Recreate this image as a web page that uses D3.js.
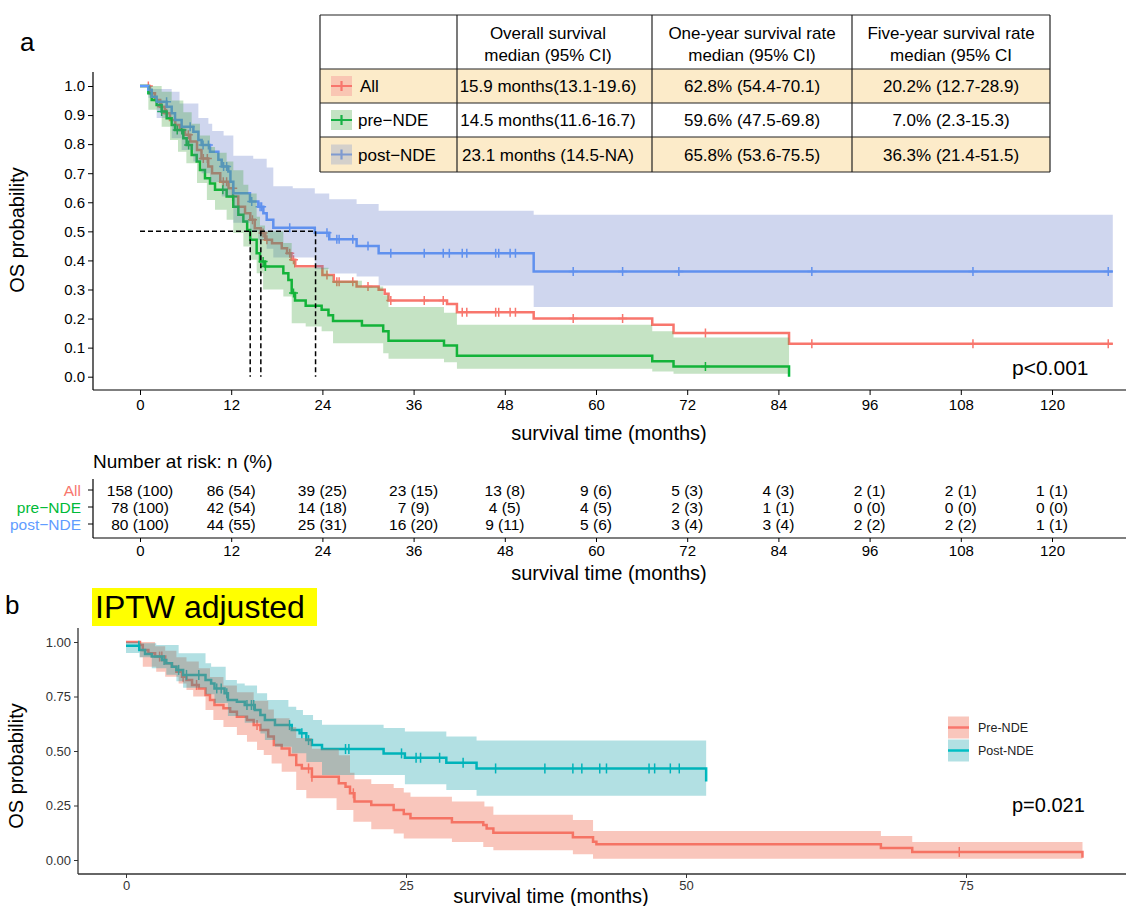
<!DOCTYPE html>
<html>
<head>
<meta charset="UTF-8">
<script src="https://d3js.org/d3.v7.min.js"></script>
<style>
  body { margin: 0; background: #fff; }
  svg text { font-family: "Liberation Sans", Arial, sans-serif; }
</style>
</head>
<body>
<div id="chart"></div>
<script>
// ---------- panel a : Kaplan-Meier, all / pre-NDE / post-NDE ----------
const riskTimes = [0, 12, 24, 36, 48, 60, 72, 84, 96, 108, 120];
const riskAllN = [158, 86, 39, 23, 13, 9, 5, 4, 2, 2, 1];
const riskAllPct = [100, 54, 25, 15, 8, 6, 3, 3, 1, 1, 1];
const riskPreN = [78, 42, 14, 7, 4, 4, 2, 1, 0, 0, 0];
const riskPrePct = [100, 54, 18, 9, 5, 5, 3, 1, 0, 0, 0];
const riskPostN = [80, 44, 25, 16, 9, 5, 3, 3, 2, 2, 1];
const riskPostPct = [100, 55, 31, 20, 11, 6, 4, 4, 2, 2, 1];

const allTime = [0,1.28,1.97,2.66,3.26,3.95,4.64,5.23,5.92,6.61,7.5,8.09,8.98,9.48,10.56,11.65,12.24,12.93,13.82,14.51,15.1,15.9,16.48,17.37,18.65,19.35,19.94,20.43,24.0,25.5,28.5,31.4,32.2,32.7,40.4,41.7,51.8,67.4,70.2,85.4,128];
const allSurv = [1,0.975,0.952,0.929,0.906,0.883,0.866,0.849,0.832,0.809,0.78,0.751,0.723,0.70,0.671,0.648,0.62,0.585,0.562,0.54,0.511,0.494,0.471,0.459,0.442,0.425,0.402,0.38,0.35,0.327,0.31,0.299,0.285,0.262,0.25,0.222,0.20,0.179,0.15,0.113,0.113];
const allCens = [1.1,2.85,3.5,6.36,8.33,8.86,10.96,11.4,12.2,14.8,16.2,16.7,19.7,20.2,24.6,25.9,26.2,28.0,30.0,33.0,37.4,39.9,42.4,43.0,46.8,47.2,48.7,49.4,57.0,63.5,74.4,88.4,109.6,127.4];

const preTime = [0,1.1,1.54,2.19,2.85,3.51,4.17,4.61,5.7,6.14,6.8,7.46,7.89,8.55,9.21,9.87,11.4,12.28,12.94,13.6,14.1,14.5,15.35,15.79,16.45,18.86,19.52,19.96,20.4,21.8,23.9,24.8,25.4,29.2,32.0,32.7,40.0,41.7,67.4,70.2,85.4];
const preSurv = [1,0.975,0.952,0.935,0.912,0.889,0.866,0.849,0.82,0.797,0.763,0.74,0.711,0.683,0.665,0.643,0.62,0.585,0.557,0.534,0.505,0.471,0.425,0.396,0.379,0.356,0.333,0.288,0.262,0.244,0.23,0.211,0.192,0.176,0.156,0.124,0.107,0.072,0.053,0.035,0.0];
const preCens = [2.85,4.9,5.5,6.4,10.9,12.2,16.2,16.5,20.2,74.4];
const preCiUpTime = [0,2.85,4.17,5.7,6.8,7.89,9.21,9.87,11.4,12.28,13.6,14.25,15.35,15.79,16.45,18.86,19.96,20.4,24.8,25.4,29.2,32.0,32.7,40.0,41.7,67.4,70.2,85.4];
const preCiUp = [1,0.98,0.95,0.91,0.87,0.83,0.79,0.77,0.74,0.71,0.66,0.63,0.55,0.52,0.50,0.46,0.40,0.375,0.35,0.33,0.31,0.28,0.24,0.22,0.179,0.156,0.135,0.135];
const preCiLowTime = [0,1.1,2.85,3.95,5.0,6.1,7.5,8.8,9.87,11.4,12.28,13.6,14.5,15.35,16.2,18.86,19.96,21.8,23.9,25.4,32.0,32.7,40.0,41.7,67.4,70.2,85.4];
const preCiLow = [1,0.918,0.86,0.814,0.774,0.734,0.666,0.608,0.574,0.54,0.494,0.448,0.402,0.356,0.30,0.276,0.184,0.173,0.156,0.115,0.081,0.062,0.05,0.027,0.018,0.01,0.01];

const postTime = [0,1.1,1.54,2.19,3.51,4.17,4.61,5.48,7.02,7.68,8.11,9.21,10.31,10.75,11.62,11.9,12.28,14.47,15.57,16.23,16.67,17.54,23.0,24.9,28.5,31.4,51.8,128];
const postSurv = [1,0.987,0.963,0.946,0.929,0.906,0.883,0.86,0.843,0.814,0.797,0.774,0.746,0.723,0.706,0.671,0.631,0.603,0.585,0.562,0.54,0.512,0.495,0.473,0.45,0.425,0.362,0.362];
const postCens = [3.5,6.6,8.3,9.0,11.0,11.4,14.7,15.8,16.0,19.7,24.6,25.9,26.2,28.0,30.0,33.0,37.4,39.9,40.7,42.4,43.0,46.8,47.2,48.7,49.4,57.0,63.5,70.9,88.4,109.6,127.4];
const postCiUpTime = [0,1.54,4.17,5.2,7.68,9.0,9.5,11.0,12.28,14.9,16.67,17.54,20.1,23.0,24.9,28.5,31.4,51.8,128];
const postCiUp = [1,0.99,0.98,0.94,0.89,0.87,0.845,0.83,0.76,0.75,0.72,0.655,0.648,0.63,0.61,0.594,0.571,0.557,0.557];
const postCiLowTime = [0,1.1,2.19,4.17,5.48,7.02,8.11,9.21,10.75,12.28,14.47,15.57,16.67,17.54,23.0,24.9,28.5,31.4,51.8,128];
const postCiLow = [1,0.96,0.89,0.82,0.78,0.74,0.70,0.67,0.62,0.53,0.50,0.47,0.44,0.41,0.37,0.355,0.345,0.314,0.24,0.24];

const medianTimes = [14.5, 15.9, 23.1];

const tableHead = [["Overall survival", "median (95% CI)"], ["One-year survival rate", "median  (95% CI)"], ["Five-year survival rate", "median (95% CI"]];
const tableGroups = ["All", "pre\u2212NDE", "post\u2212NDE"];
const tableOS = ["15.9 months(13.1-19.6)", "14.5 months(11.6-16.7)", "23.1 months (14.5-NA)"];
const table1y = ["62.8% (54.4-70.1)", "59.6% (47.5-69.8)", "65.8% (53.6-75.5)"];
const table5y = ["20.2% (12.7-28.9)", "7.0% (2.3-15.3)", "36.3% (21.4-51.5)"];

// ---------- panel b : IPTW adjusted ----------
const bPreTime = [0,1.25,1.5,2.0,2.6,3.5,4.1,4.5,5.0,5.4,5.9,6.5,7.1,7.5,7.9,8.7,9.3,9.9,10.8,11.4,12.0,12.7,13.2,13.9,14.6,15.2,15.7,16.6,19.0,19.6,20.0,20.4,21.9,23.9,24.8,25.4,29.1,31.9,32.2,32.8,39.9,41.7,42.0,67.4,70.2,85.4];
const bPreSurv = [1,0.986,0.963,0.948,0.933,0.902,0.887,0.864,0.841,0.826,0.803,0.787,0.757,0.734,0.711,0.696,0.68,0.657,0.642,0.619,0.596,0.566,0.528,0.512,0.482,0.436,0.42,0.382,0.352,0.336,0.306,0.268,0.252,0.229,0.211,0.191,0.173,0.161,0.145,0.125,0.104,0.084,0.072,0.055,0.037,0.01];
const bPreCens = [3.0,3.2,5.1,6.3,11.7,16.3,16.6,20.3,74.4];
const bPreCiUpTime = [0,2.6,3.5,4.5,5.4,6.5,7.5,8.7,9.9,11.4,12.7,13.2,14.6,15.2,16.6,19.0,20.0,20.4,21.9,23.9,24.8,25.4,29.1,32.0,32.8,39.9,41.7,67.4,70.2,85.4];
const bPreCiUp = [1,0.98,0.96,0.93,0.91,0.88,0.84,0.80,0.77,0.73,0.69,0.65,0.61,0.56,0.51,0.48,0.40,0.37,0.349,0.33,0.31,0.29,0.268,0.245,0.207,0.184,0.133,0.11,0.083,0.083];
const bPreCiLowTime = [0,1.25,1.5,2.7,3.5,4.7,5.4,6.0,7.1,7.8,8.7,9.9,10.8,11.7,12.3,13.0,13.9,15.2,16.1,18.8,20.3,21.9,23.9,24.8,29.1,31.9,32.8,39.9,41.7,85.4];
const bPreCiLow = [1,0.93,0.887,0.864,0.841,0.81,0.78,0.75,0.688,0.642,0.61,0.573,0.543,0.505,0.482,0.443,0.405,0.321,0.283,0.229,0.176,0.141,0.122,0.099,0.083,0.06,0.045,0.026,0.006,0.006];

const bPostTime = [0,1.2,1.7,2.3,3.2,3.6,4.1,4.5,5.1,7.1,7.6,7.9,8.8,9.1,9.9,10.6,11.5,12.0,12.4,13.3,14.8,15.5,16.1,16.6,17.5,23.0,24.9,28.6,31.3,51.8];
const bPostSurv = [0.983,0.963,0.945,0.933,0.917,0.902,0.887,0.872,0.849,0.826,0.81,0.787,0.765,0.734,0.726,0.711,0.688,0.665,0.642,0.619,0.596,0.581,0.55,0.528,0.509,0.489,0.469,0.446,0.42,0.36];
const bPostCens = [1.15,3.4,4.7,5.4,6.5,8.1,8.5,9.0,10.8,11.2,11.4,14.6,15.7,16.3,19.6,19.9,24.6,25.9,26.3,28.0,30.1,33.0,37.4,39.9,40.7,42.3,42.9,46.7,47.2,48.6,49.4];
const bPostCiUpTime = [0,1.2,2.7,4.7,7.1,7.6,8.9,9.9,10.6,11.7,12.6,14.5,15.2,15.8,16.7,17.5,23.0,24.9,28.6,31.3,51.8];
const bPostCiUp = [1,0.994,0.986,0.948,0.902,0.887,0.826,0.81,0.80,0.765,0.734,0.703,0.688,0.665,0.642,0.62,0.605,0.589,0.566,0.548,0.548];
const bPostCiLowTime = [0,1.2,2.3,3.6,4.5,5.1,7.1,7.9,9.1,10.6,12.0,12.4,13.3,14.8,16.1,17.5,24.9,28.6,31.3,51.8];
const bPostCiLow = [0.95,0.93,0.88,0.85,0.82,0.79,0.76,0.72,0.66,0.63,0.58,0.55,0.52,0.49,0.45,0.39,0.347,0.321,0.295,0.295];

const bTicksX = [0, 25, 50, 75];
const bTicksY = [0, 0.25, 0.5, 0.75, 1];

// ---------- helpers ----------
const svg = d3.select('#chart').append('svg').attr('width', 1126).attr('height', 906);

const stepAt = (ts, vs, t) => vs[Math.max(0, d3.bisectRight(ts, t) - 1)];
function bandRows(upT, upV, loT, loV) {
  const ts = Array.from(new Set([...upT, ...loT])).sort((a, b) => a - b);
  return ts.map(t => [t, stepAt(loT, loV, t), stepAt(upT, upV, t)]);
}
function drawCurve(g, x, y, time, surv, color, w) {
  const line = d3.line().x(d => x(d[0])).y(d => y(d[1])).curve(d3.curveStepAfter);
  g.append('path').attr('d', line(d3.zip(time, surv)))
    .attr('fill', 'none').attr('stroke', color).attr('stroke-width', w);
}
function drawBand(g, x, y, rows, color, op) {
  const area = d3.area().x(d => x(d[0])).y0(d => y(d[1])).y1(d => y(d[2])).curve(d3.curveStepAfter);
  g.append('path').attr('d', area(rows)).attr('fill', color).attr('fill-opacity', op);
}
function drawCensor(g, x, y, cens, time, surv, color, plus) {
  g.selectAll(null).data(cens).enter().append('path')
    .attr('d', t => {
      const px = x(t), py = y(stepAt(time, surv, t));
      return plus ? `M${px - 4.5},${py}H${px + 4.5}M${px},${py - 4.5}V${py + 4.5}`
                  : `M${px},${py - 5}V${py + 5}`;
    })
    .attr('stroke', color).attr('stroke-width', 1.5).attr('fill', 'none');
}

// ---------- panel a ----------
const xA = d3.scaleLinear().domain([0, 120]).range([140, 1052]);
const yA = d3.scaleLinear().domain([0, 1]).range([376.7, 86]);
const gA = svg.append('g');

drawCurve(gA, xA, yA, allTime, allSurv, '#F8766D', 2.5);
drawCensor(gA, xA, yA, allCens, allTime, allSurv, '#F8766D', true);
drawCurve(gA, xA, yA, preTime, preSurv, '#00BA38', 2.5);
drawCensor(gA, xA, yA, preCens, preTime, preSurv, '#00BA38', true);
drawCurve(gA, xA, yA, postTime, postSurv, '#619CFF', 2.5);
drawCensor(gA, xA, yA, postCens, postTime, postSurv, '#619CFF', true);
drawBand(gA, xA, yA, bandRows(postCiUpTime, postCiUp, postCiLowTime, postCiLow), '#5f76c6', 0.3);
drawBand(gA, xA, yA, bandRows(preCiUpTime, preCiUp, preCiLowTime, preCiLow), '#3ea23a', 0.3);

// median dashed lines
gA.append('line').attr('x1', xA(0)).attr('x2', xA(d3.max(medianTimes)))
  .attr('y1', yA(0.5)).attr('y2', yA(0.5))
  .attr('stroke', '#000').attr('stroke-width', 1.5).attr('stroke-dasharray', '5,3');
gA.selectAll(null).data(medianTimes).enter().append('line')
  .attr('x1', d => xA(d)).attr('x2', d => xA(d)).attr('y1', yA(0.5)).attr('y2', yA(0))
  .attr('stroke', '#000').attr('stroke-width', 1.5).attr('stroke-dasharray', '5,3');

// axes
const axA = gA.append('g').attr('transform', 'translate(93,0)')
  .call(d3.axisLeft(yA).tickValues(d3.range(0, 1.01, 0.1)).tickFormat(d3.format('.1f')).tickSize(5).tickPadding(3));
const axAx = gA.append('g').attr('transform', 'translate(0,390)')
  .call(d3.axisBottom(xA).tickValues(riskTimes).tickSize(5).tickPadding(4));
[axA, axAx].forEach(a => {
  a.select('.domain').remove();
  a.selectAll('text').attr('font-size', 15).attr('fill', '#000');
  a.selectAll('line').attr('stroke', '#000');
});
gA.append('line').attr('x1', 93).attr('x2', 93).attr('y1', 72).attr('y2', 390).attr('stroke', '#000').attr('stroke-width', 1.2);
gA.append('line').attr('x1', 93).attr('x2', 1126).attr('y1', 390).attr('y2', 390).attr('stroke', '#000').attr('stroke-width', 1.2);

svg.append('text').attr('x', 20).attr('y', 51).attr('font-size', 26).text('a');
svg.append('text').attr('transform', 'translate(24,230) rotate(-90)').attr('text-anchor', 'middle')
  .attr('font-size', 20).text('OS probability');
svg.append('text').attr('x', 609).attr('y', 440).attr('text-anchor', 'middle').attr('font-size', 20).text('survival time (months)');
svg.append('text').attr('x', 1012).attr('y', 375).attr('font-size', 21).text('p<0.001');

// ---------- summary table ----------
const colX = [320, 457, 652, 852, 1050];
const rowY = [15, 69, 103, 137, 172];
const gT = svg.append('g');
gT.append('rect').attr('x', colX[0]).attr('y', rowY[0]).attr('width', colX[4] - colX[0]).attr('height', rowY[4] - rowY[0]).attr('fill', '#fff');
[0, 2].forEach(r => gT.append('rect').attr('x', colX[0]).attr('y', rowY[r + 1])
  .attr('width', colX[4] - colX[0]).attr('height', rowY[r + 2] - rowY[r + 1]).attr('fill', '#fcebc9'));
rowY.forEach(yv => gT.append('line').attr('x1', colX[0]).attr('x2', colX[4]).attr('y1', yv).attr('y2', yv).attr('stroke', '#222').attr('stroke-width', 1.2));
colX.forEach(xv => gT.append('line').attr('x1', xv).attr('x2', xv).attr('y1', rowY[0]).attr('y2', rowY[4]).attr('stroke', '#222').attr('stroke-width', 1.2));
const colC = [548, 752, 951];
tableHead.forEach((h, i) => {
  gT.append('text').attr('x', colC[i]).attr('y', 39).attr('text-anchor', 'middle').attr('font-size', 17).text(h[0]);
  gT.append('text').attr('x', colC[i]).attr('y', 60.5).attr('text-anchor', 'middle').attr('font-size', 17).text(h[1]);
});
const keyBg = ['#f9c6b3', '#c4e3c3', '#d4d0cb'];
const keyLine = ['#F8766D', '#16b045', '#7f9ad0'];
tableGroups.forEach((g, i) => {
  const cy = (rowY[i + 1] + rowY[i + 2]) / 2;
  gT.append('rect').attr('x', 331).attr('y', cy - 10).attr('width', 21).attr('height', 20).attr('fill', keyBg[i]);
  gT.append('path').attr('d', `M331,${cy}H352M341.5,${cy - 5}V${cy + 5}`).attr('stroke', keyLine[i]).attr('stroke-width', 2.2).attr('fill', 'none');
  gT.append('text').attr('x', i === 0 ? 360 : 358).attr('y', cy + 6).attr('font-size', 17).text(g);
  [tableOS[i], table1y[i], table5y[i]].forEach((v, j) => {
    gT.append('text').attr('x', colC[j]).attr('y', cy + 6).attr('text-anchor', 'middle').attr('font-size', 17).text(v);
  });
});

// ---------- risk table ----------
const gR = svg.append('g');
gR.append('text').attr('x', 93).attr('y', 468).attr('font-size', 19).text('Number at risk: n (%)');
const riskRows = [
  { name: 'All', color: '#F8766D', n: riskAllN, p: riskAllPct },
  { name: 'pre\u2212NDE', color: '#00BA38', n: riskPreN, p: riskPrePct },
  { name: 'post\u2212NDE', color: '#619CFF', n: riskPostN, p: riskPostPct }
];
const riskY = [490, 507, 524];
riskRows.forEach((r, i) => {
  gR.append('text').attr('x', 81).attr('y', riskY[i] + 5.5).attr('text-anchor', 'end').attr('font-size', 15.5).attr('fill', r.color).text(r.name);
  gR.append('line').attr('x1', 88).attr('x2', 93).attr('y1', riskY[i]).attr('y2', riskY[i]).attr('stroke', '#000');
  gR.selectAll(null).data(riskTimes).enter().append('text')
    .attr('x', d => xA(d)).attr('y', riskY[i] + 5.5).attr('text-anchor', 'middle').attr('font-size', 15.5)
    .text((d, k) => `${r.n[k]} (${r.p[k]})`);
});
gR.append('line').attr('x1', 93).attr('x2', 93).attr('y1', 479).attr('y2', 538).attr('stroke', '#000').attr('stroke-width', 1.2);
const axR = gR.append('g').attr('transform', 'translate(0,538)')
  .call(d3.axisBottom(xA).tickValues(riskTimes).tickSize(4).tickPadding(3));
axR.select('.domain').remove();
axR.selectAll('text').attr('font-size', 15).attr('fill', '#000');
gR.append('line').attr('x1', 93).attr('x2', 1126).attr('y1', 538).attr('y2', 538).attr('stroke', '#000').attr('stroke-width', 1.2);
gR.append('text').attr('x', 609).attr('y', 580).attr('text-anchor', 'middle').attr('font-size', 20).text('survival time (months)');

// ---------- panel b ----------
const xB = d3.scaleLinear().domain([0, 75]).range([126, 966]);
const yB = d3.scaleLinear().domain([0, 1]).range([860, 642]);
const gB = svg.append('g');

svg.append('text').attr('x', 5).attr('y', 614).attr('font-size', 26).text('b');
svg.append('rect').attr('x', 92).attr('y', 588).attr('width', 225).attr('height', 38).attr('fill', '#ffff00');
svg.append('text').attr('x', 95).attr('y', 618).attr('font-size', 32).text('IPTW adjusted');

drawCurve(gB, xB, yB, bPreTime, bPreSurv, '#F8766D', 2.5);
drawCensor(gB, xB, yB, bPreCens, bPreTime, bPreSurv, '#F8766D', false);
drawCurve(gB, xB, yB, bPostTime, bPostSurv, '#00BFC4', 2.5);
drawCensor(gB, xB, yB, bPostCens, bPostTime, bPostSurv, '#00BFC4', false);
drawBand(gB, xB, yB, bandRows(bPreCiUpTime, bPreCiUp, bPreCiLowTime, bPreCiLow), '#f07057', 0.4);
drawBand(gB, xB, yB, bandRows(bPostCiUpTime, bPostCiUp, bPostCiLowTime, bPostCiLow), '#0099a3', 0.3);

const axBy = gB.append('g').attr('transform', 'translate(78,0)')
  .call(d3.axisLeft(yB).tickValues(bTicksY).tickFormat(d3.format('.2f')).tickSize(4).tickPadding(3));
const axBx = gB.append('g').attr('transform', 'translate(0,874)')
  .call(d3.axisBottom(xB).tickValues(bTicksX).tickSize(4).tickPadding(3));
[axBy, axBx].forEach(a => {
  a.select('.domain').remove();
  a.selectAll('text').attr('font-size', 13).attr('fill', '#333');
  a.selectAll('line').attr('stroke', '#333');
});
gB.append('line').attr('x1', 78).attr('x2', 78).attr('y1', 628).attr('y2', 874).attr('stroke', '#333').attr('stroke-width', 1.3);
gB.append('line').attr('x1', 78).attr('x2', 1126).attr('y1', 874).attr('y2', 874).attr('stroke', '#333').attr('stroke-width', 1.3);

svg.append('text').attr('transform', 'translate(23,766) rotate(-90)').attr('text-anchor', 'middle')
  .attr('font-size', 20).text('OS probability');
svg.append('text').attr('x', 551).attr('y', 903).attr('text-anchor', 'middle').attr('font-size', 20).text('survival time (months)');
svg.append('text').attr('x', 1012).attr('y', 812).attr('font-size', 20).text('p=0.021');

// legend b
const legB = [{ name: 'Pre-NDE', color: '#F8766D', bg: '#f07057', op: 0.4 }, { name: 'Post-NDE', color: '#00BFC4', bg: '#0099a3', op: 0.3 }];
legB.forEach((l, i) => {
  const cy = 727.5 + i * 23;
  gB.append('rect').attr('x', 948).attr('y', cy - 11).attr('width', 21).attr('height', 22).attr('fill', l.bg).attr('fill-opacity', l.op);
  gB.append('line').attr('x1', 948).attr('x2', 969).attr('y1', cy).attr('y2', cy).attr('stroke', l.color).attr('stroke-width', 2.5);
  gB.append('text').attr('x', 978).attr('y', cy + 4.5).attr('font-size', 12.5).attr('fill', '#222').text(l.name);
});
</script>
</body>
</html>
